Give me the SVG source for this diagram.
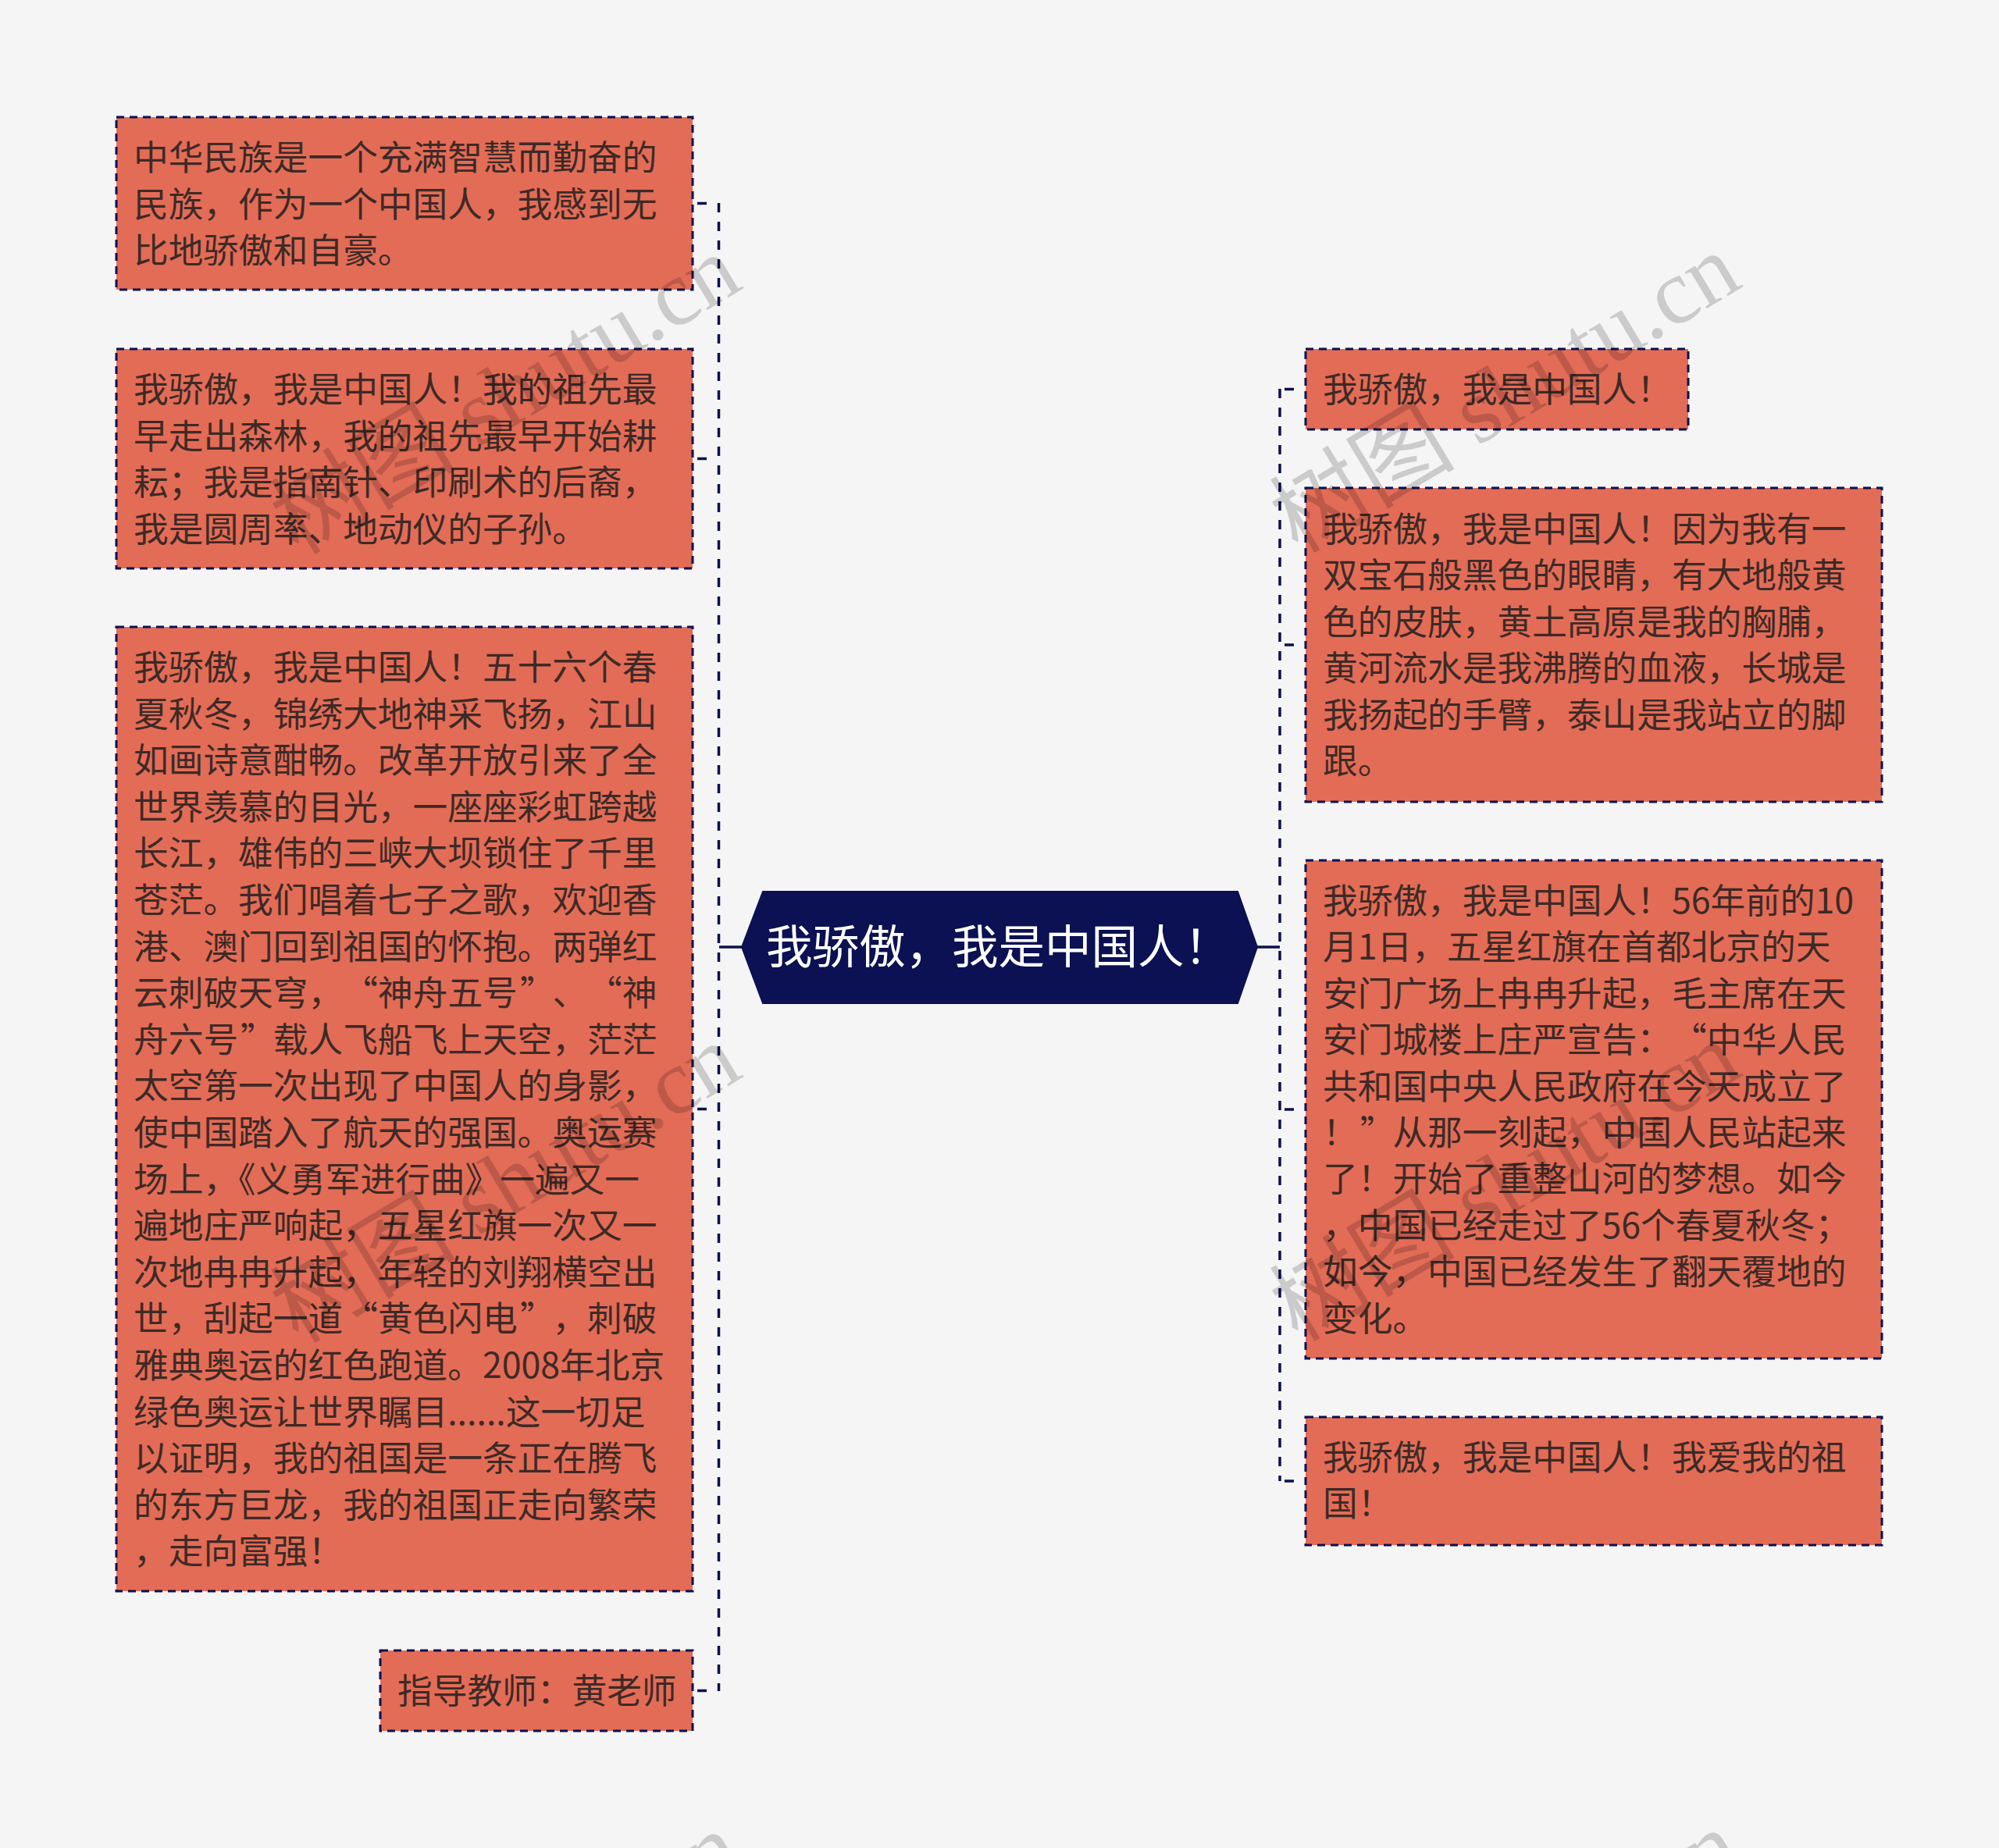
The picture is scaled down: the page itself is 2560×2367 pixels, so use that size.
<svg xmlns="http://www.w3.org/2000/svg" width="2560" height="2367" viewBox="0 0 2560 2367">
<style>
.bx{fill:#e36c57;stroke:#0b1050;stroke-width:3;stroke-dasharray:10 7}
.tx{font-family:"Noto Sans CJK SC","Noto Sans",sans-serif;font-size:44.7px;fill:#3d2a26}
.ct{font-family:"Noto Sans CJK SC","Noto Sans",sans-serif;font-size:59.5px;fill:#ffffff}
.tr{fill:none;stroke:#0b1050;stroke-width:3.5;stroke-dasharray:12 12}
.st{fill:none;stroke:#0b1050;stroke-width:3.5}
.wm{font-family:"Liberation Serif","Noto Sans CJK SC",serif;font-size:119px;fill:#000;fill-opacity:0.17}
</style>
<rect width="2560" height="2367" fill="#f5f5f5"/>
<g id="connectors">
<path class="st" d="M950 1213H921"/>
<path class="tr" d="M920.5 260V2166"/>
<path class="st" d="M893 260.5H905M893 587.5H905M893 1420.5H905M893 2165.5H905"/>
<path class="st" d="M1610 1213H1639"/>
<path class="tr" d="M1639 498V1897"/>
<path class="st" d="M1645 498.5H1657M1645 826H1657M1645 1421H1657M1645 1897H1657"/>
</g>
<g id="center">
<polygon points="950,1213 977,1142 1585,1142 1610,1213 1585,1285 977,1285" fill="#0b1152" stroke="#0b1152" stroke-width="2"/>
<text class="ct" x="981" y="1234">我骄傲，我是中国人！</text>
</g>
<g id="l1">
<rect class="bx" x="149" y="150" width="738" height="221"/>
<text class="tx" x="171" y="218">中华民族是一个充满智慧而勤奋的</text>
<text class="tx" x="171" y="277.6">民族，作为一个中国人，我感到无</text>
<text class="tx" x="171" y="337.2">比地骄傲和自豪。</text>
</g>
<g id="l2">
<rect class="bx" x="149" y="447" width="738" height="281"/>
<text class="tx" x="171" y="515">我骄傲，我是中国人！我的祖先最</text>
<text class="tx" x="171" y="574.6">早走出森林，我的祖先最早开始耕</text>
<text class="tx" x="171" y="634.2">耘；我是指南针、印刷术的后裔，</text>
<text class="tx" x="171" y="693.8">我是圆周率、地动仪的子孙。</text>
</g>
<g id="l3">
<rect class="bx" x="149" y="803" width="738" height="1235"/>
<text class="tx" x="171" y="871">我骄傲，我是中国人！五十六个春</text>
<text class="tx" x="171" y="930.6">夏秋冬，锦绣大地神采飞扬，江山</text>
<text class="tx" x="171" y="990.2">如画诗意酣畅。改革开放引来了全</text>
<text class="tx" x="171" y="1049.8">世界羡慕的目光，一座座彩虹跨越</text>
<text class="tx" x="171" y="1109.4">长江，雄伟的三峡大坝锁住了千里</text>
<text class="tx" x="171" y="1169">苍茫。我们唱着七子之歌，欢迎香</text>
<text class="tx" x="171" y="1228.6">港、澳门回到祖国的怀抱。两弹红</text>
<text class="tx" x="171" y="1288.2">云刺破天穹，<tspan x="439.2">“</tspan><tspan x="484">神舟五号</tspan><tspan x="666">”</tspan><tspan x="707.4">、</tspan><tspan x="752.1">“</tspan><tspan x="796.8">神</tspan></text>
<text class="tx" x="171" y="1347.8">舟六号<tspan x="308">”</tspan><tspan x="349.8">载人飞船飞上天空，茫茫</tspan></text>
<text class="tx" x="171" y="1407.4">太空第一次出现了中国人的身影，</text>
<text class="tx" x="171" y="1467">使中国踏入了航天的强国。奥运赛</text>
<text class="tx" x="171" y="1526.6">场上，《义勇军进行曲》一遍又一</text>
<text class="tx" x="171" y="1586.2">遍地庄严响起，五星红旗一次又一</text>
<text class="tx" x="171" y="1645.8">次地冉冉升起，年轻的刘翔横空出</text>
<text class="tx" x="171" y="1705.4">世，刮起一道<tspan x="439.2">“</tspan><tspan x="484">黄色闪电</tspan><tspan x="666">”</tspan><tspan x="707.4">，刺破</tspan></text>
<text class="tx" x="171" y="1765">雅典奥运的红色跑道。2008年北京</text>
<text class="tx" x="171" y="1824.6">绿色奥运让世界瞩目......这一切足</text>
<text class="tx" x="171" y="1884.2">以证明，我的祖国是一条正在腾飞</text>
<text class="tx" x="171" y="1943.8">的东方巨龙，我的祖国正走向繁荣</text>
<text class="tx" x="171" y="2003.4">，走向富强！</text>
</g>
<g id="l4">
<rect class="bx" x="487" y="2114" width="400" height="103"/>
<text class="tx" x="509" y="2182">指导教师：黄老师</text>
</g>
<g id="r1">
<rect class="bx" x="1672" y="447" width="490" height="103"/>
<text class="tx" x="1694" y="515">我骄傲，我是中国人！</text>
</g>
<g id="r2">
<rect class="bx" x="1672" y="625" width="738" height="402"/>
<text class="tx" x="1694" y="694">我骄傲，我是中国人！因为我有一</text>
<text class="tx" x="1694" y="753.4">双宝石般黑色的眼睛，有大地般黄</text>
<text class="tx" x="1694" y="812.8">色的皮肤，黄土高原是我的胸脯，</text>
<text class="tx" x="1694" y="872.2">黄河流水是我沸腾的血液，长城是</text>
<text class="tx" x="1694" y="931.6">我扬起的手臂，泰山是我站立的脚</text>
<text class="tx" x="1694" y="991">跟。</text>
</g>
<g id="r3">
<rect class="bx" x="1672" y="1102" width="738" height="638"/>
<text class="tx" x="1694" y="1170">我骄傲，我是中国人！56年前的10</text>
<text class="tx" x="1694" y="1229.4">月1日，五星红旗在首都北京的天</text>
<text class="tx" x="1694" y="1288.8">安门广场上冉冉升起，毛主席在天</text>
<text class="tx" x="1694" y="1348.2">安门城楼上庄严宣告：<tspan x="2141">“</tspan><tspan x="2185.7">中华人民</tspan></text>
<text class="tx" x="1694" y="1407.6">共和国中央人民政府在今天成立了</text>
<text class="tx" x="1694" y="1467">！<tspan x="1741.7">”</tspan><tspan x="1783.4">从那一刻起，中国人民站起来</tspan></text>
<text class="tx" x="1694" y="1526.4">了！开始了重整山河的梦想。如今</text>
<text class="tx" x="1694" y="1585.8">，中国已经走过了56个春夏秋冬；</text>
<text class="tx" x="1694" y="1645.2">如今，中国已经发生了翻天覆地的</text>
<text class="tx" x="1694" y="1704.6">变化。</text>
</g>
<g id="r4">
<rect class="bx" x="1672" y="1815" width="738" height="164"/>
<text class="tx" x="1694" y="1883">我骄傲，我是中国人！我爱我的祖</text>
<text class="tx" x="1694" y="1942.4">国！</text>
</g>
<g id="watermarks">
<text class="wm" transform="translate(382 712) rotate(-31)">树图 shutu.cn</text>
<text class="wm" transform="translate(1662 710) rotate(-31)">树图 shutu.cn</text>
<text class="wm" transform="translate(382 1722) rotate(-31)">树图 shutu.cn</text>
<text class="wm" transform="translate(1662 1720) rotate(-31)">树图 shutu.cn</text>
<text class="wm" transform="translate(382 2732) rotate(-31)">树图 shutu.cn</text>
<text class="wm" transform="translate(1662 2730) rotate(-31)">树图 shutu.cn</text>
</g>
</svg>
